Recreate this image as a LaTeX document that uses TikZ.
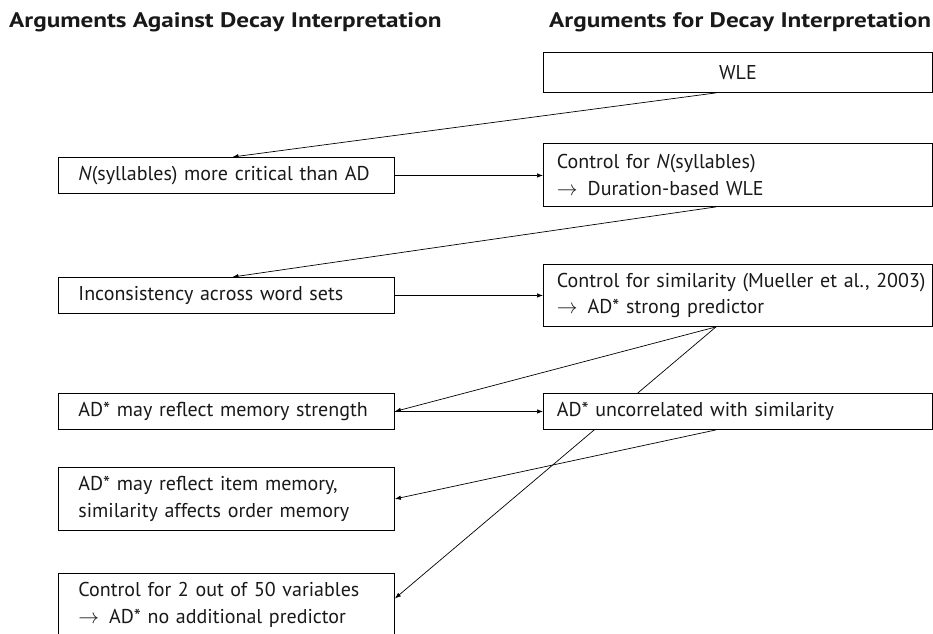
\documentclass[tikz,border=0pt]{standalone}
\usepackage{fontspec}
\setmainfont{PT Sans}
\newfontfamily\headfont[FakeStretch=1.2]{PT Sans}
\usetikzlibrary{arrows.meta,backgrounds}

\begin{document}
\begin{tikzpicture}[x=1pt,y=-1pt,
  every node/.style={font=\fontsize{20}{26.5}\selectfont, text=black!90},
  head/.style={font=\headfont\fontsize{21}{24}\selectfont\bfseries, anchor=west, inner sep=0pt},
  argleft/.style={draw, fill=white, anchor=north west, minimum width=336pt, text width=296pt,
    inner xsep=20pt, align=left, minimum height=36pt, line width=0.9pt},
  argright/.style={argleft, minimum width=389pt, text width=362pt, inner xsep=13.5pt},
  link/.style={-{Latex[length=6pt,width=4.5pt]}, line width=0.7pt}]
  \useasboundingbox (0,0) rectangle (933,633);
  \node[head] (against) at (9,22) {Arguments Against Decay Interpretation};
  \node[head] (for) at (549,22) {Arguments for Decay Interpretation};

  \node[argright, minimum height=40pt, align=center] (wle) at (543,52) {WLE};
  \node[argleft] (nsyl) at (58,157) {\textit{N}(syllables) more critical than AD};
  \node[argright, minimum height=63pt] (ctlN) at (543,143) {Control for \textit{N}(syllables)\\$\rightarrow$\enspace Duration-based WLE};
  \node[argleft] (incons) at (58,277) {Inconsistency across word sets};
  \node[argright, minimum height=62pt] (ctlsim) at (543,264) {\mbox{Control for similarity (Mueller et al., 2003)}\\$\rightarrow$\enspace AD* strong predictor};
  \node[argleft] (strength) at (58,393) {AD* may reflect memory strength};
  \node[argright] (uncorr) at (543,393) {AD* uncorrelated with similarity};
  \node[argleft, minimum height=63pt] (item) at (58,467) {AD* may reflect item memory,\\similarity affects order memory};
  \node[argleft, minimum height=63pt] (fifty) at (58,573) {Control for 2 out of 50 variables\\$\rightarrow$\enspace AD* no additional predictor};

  \begin{pgfonlayer}{background}
  \draw[link] ([xshift=-22pt]wle.south) -- ([xshift=6pt]nsyl.north);
  \draw[link] (nsyl.east) -- (nsyl.east -| ctlN.west);
  \draw[link] ([xshift=-22pt]ctlN.south) -- ([xshift=6pt]incons.north);
  \draw[link] (incons.east) -- (incons.east -| ctlsim.west);
  \draw[link] ([xshift=-22pt]ctlsim.south) -- (strength.east);
  \draw[link] (strength.east) -- (uncorr.west);
  \draw[link] ([xshift=-22pt]ctlsim.south) -- ([yshift=6.5pt]fifty.east);
  \draw[link] ([xshift=-22pt]uncorr.south) -- (item.east);
  \end{pgfonlayer}
\end{tikzpicture}
\end{document}
